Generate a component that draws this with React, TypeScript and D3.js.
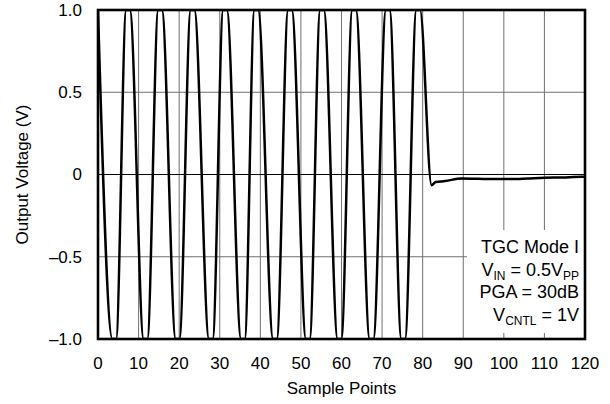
import React from "react";
import * as d3 from "d3";

// Sample positions (x) and output voltage (V).
// The signal is clipped at the rails, so each extreme is a short flat run.
const sampleX = [
  0,
  3.55, 4.45,
  6.95, 7.85,
  11.25, 12.15,
  14.85, 15.75,
  19.15, 20.05,
  22.85, 23.75,
  27.35, 28.25,
  30.85, 31.75,
  35.25, 36.15,
  38.55, 39.45,
  43.15, 44.05,
  46.85, 47.75,
  51.25, 52.15,
  54.75, 55.65,
  59.05, 59.95,
  62.65, 63.55,
  66.95, 67.85,
  70.95, 71.85,
  74.75, 75.65,
  78.45, 79.35,
  82.2, 83.2, 85.5, 89.6, 93.6, 97.8, 101.9, 106, 110, 114.3, 119.2, 120,
];
const outputV = [
  1,
  -1, -1,
  1, 1,
  -1, -1,
  1, 1,
  -1, -1,
  1, 1,
  -1, -1,
  1, 1,
  -1, -1,
  1, 1,
  -1, -1,
  1, 1,
  -1, -1,
  1, 1,
  -1, -1,
  1, 1,
  -1, -1,
  1, 1,
  -1, -1,
  1, 1,
  -0.065, -0.046, -0.04, -0.024, -0.026, -0.028, -0.028, -0.024, -0.02, -0.018, -0.014, -0.014,
];

const xTicks = [0, 10, 20, 30, 40, 50, 60, 70, 80, 90, 100, 110, 120];
const yTicks = [1.0, 0.5, 0, -0.5, -1.0];
const yTickLabels = ["1.0", "0.5", "0", "\u20130.5", "\u20131.0"];

const W = 610;
const H = 404;
const M = { left: 98, right: 585, top: 10, bottom: 339 };

export default function App() {
  const x = d3.scaleLinear().domain([0, 120]).range([M.left, M.right]);
  const y = d3.scaleLinear().domain([-1, 1]).range([M.bottom, M.top]);

  const pts: [number, number][] = sampleX.map((sx, i) => [sx, outputV[i]]);
  const line = d3
    .line<[number, number]>()
    .x((d) => x(d[0]))
    .y((d) => y(d[1]))
    .curve(d3.curveMonotoneX);

  const font = "'Liberation Sans', Arial, Helvetica, sans-serif";

  return (
    <svg
      width={W}
      height={H}
      style={{ position: "absolute", left: 0, top: 0, background: "#fff" }}
      fontFamily={font}
    >
      <defs>
        <clipPath id="plotClip">
          <rect x={M.left} y={M.top - 1} width={M.right - M.left} height={M.bottom - M.top + 2} />
        </clipPath>
      </defs>
      {/* grid */}
      {xTicks
        .filter((t) => t > 0 && t < 120)
        .map((t) => (
          <line
            key={"gx" + t}
            x1={x(t)}
            x2={x(t)}
            y1={M.top}
            y2={M.bottom}
            stroke="#707070"
            strokeWidth={1}
          />
        ))}
      {yTicks
        .filter((t) => t > -1 && t < 1)
        .map((t) => (
          <line
            key={"gy" + t}
            x1={M.left}
            x2={M.right}
            y1={y(t)}
            y2={y(t)}
            stroke={t === 0 ? "#000" : "#707070"}
            strokeWidth={t === 0 ? 1.2 : 1}
          />
        ))}
      {/* annotation background */}
      <rect x={467} y={230} width={M.right - 467} height={333 - 230} fill="#fff" />
      {/* curve */}
      <path
        d={line(pts) || ""}
        fill="none"
        stroke="#000"
        strokeWidth={2.5}
        strokeLinejoin="round"
        clipPath="url(#plotClip)"
      />
      {/* frame */}
      <rect
        x={M.left}
        y={M.top}
        width={M.right - M.left}
        height={M.bottom - M.top}
        fill="none"
        stroke="#000"
        strokeWidth={2.6}
      />
      {/* x tick labels */}
      {xTicks.map((t) => (
        <text key={"xt" + t} x={x(t)} y={369} textAnchor="middle" fontSize={17} fill="#000">
          {t}
        </text>
      ))}
      {/* y tick labels */}
      {yTicks.map((t, i) => (
        <text
          key={"yt" + t}
          x={82}
          y={y(t)}
          dy="0.35em"
          textAnchor="end"
          fontSize={17}
          fill="#000"
        >
          {yTickLabels[i]}
        </text>
      ))}
      {/* axis titles */}
      <text x={(M.left + M.right) / 2} y={394} textAnchor="middle" fontSize={17} fill="#000">
        Sample Points
      </text>
      <text
        transform={`translate(28,${(M.top + M.bottom) / 2}) rotate(-90)`}
        textAnchor="middle"
        fontSize={17}
        fill="#000"
      >
        Output Voltage (V)
      </text>
      {/* annotation */}
      <g fontSize={18} fill="#000" textAnchor="end">
        <text x={579} y={253}>TGC Mode I</text>
        <text x={579} y={275.5}>
          <tspan>V</tspan>
          <tspan dy={4} fontSize={12}>IN</tspan>
          <tspan dy={-4}> = 0.5V</tspan>
          <tspan dy={4} fontSize={12}>PP</tspan>
        </text>
        <text x={579} y={298}>PGA = 30dB</text>
        <text x={579} y={320.5}>
          <tspan>V</tspan>
          <tspan dy={4} fontSize={12}>CNTL</tspan>
          <tspan dy={-4}> = 1V</tspan>
        </text>
      </g>
    </svg>
  );
}
